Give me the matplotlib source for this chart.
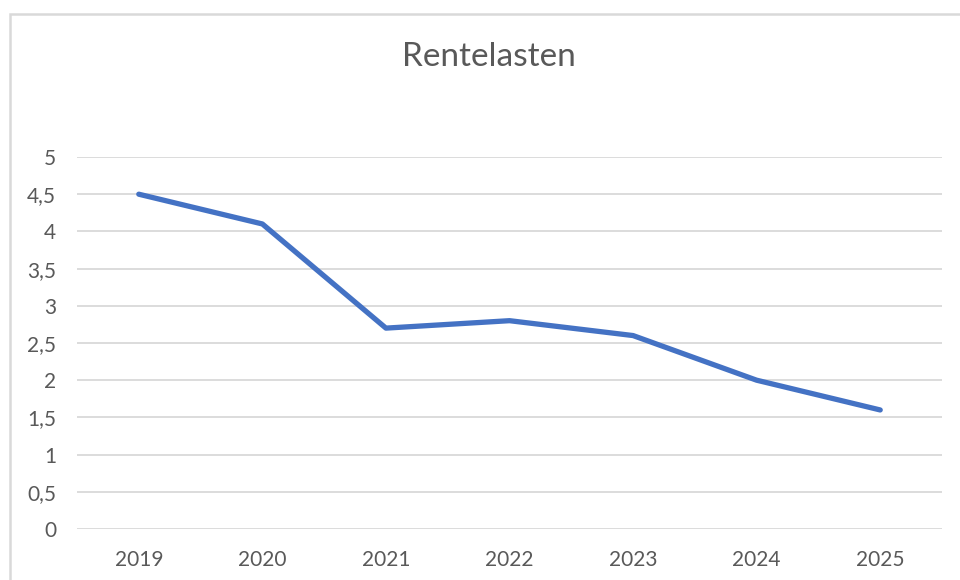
import matplotlib
matplotlib.use("Agg")
import matplotlib.pyplot as plt
from matplotlib.patches import Rectangle
from matplotlib.ticker import FuncFormatter

# rentelasten per jaar
jaren = ["2019", "2020", "2021", "2022", "2023", "2024", "2025"]
rentelasten = [4.5, 4.1, 2.7, 2.8, 2.6, 2.0, 1.6]

plt.rcParams['font.family'] = ['Lato', 'DejaVu Sans']
tekst = '#595959'

fig = plt.figure(figsize=(9.6, 5.8), dpi=100)
ax = fig.add_axes([77 / 960, 1 - 529 / 580, 865 / 960, 372 / 580])

# lichtgrijze rand om de grafiek
fig.patches.append(Rectangle((10 / 960, -0.1), 1.2, 1 - 14 / 580 + 0.1,
                             transform=fig.transFigure, fill=False,
                             edgecolor='#d9d9d9', linewidth=1.8))

x = list(range(len(jaren)))
ax.plot(x, rentelasten, color='#4472C4', linewidth=3.8,
        solid_joinstyle='round', solid_capstyle='round', zorder=3)

ax.set_xlim(-0.5, len(jaren) - 0.5)
ax.set_ylim(0, 5)
ax.set_yticks([i * 0.5 for i in range(11)])
ax.yaxis.set_major_formatter(FuncFormatter(lambda v, p: ('%g' % v).replace('.', ',')))
ax.set_xticks(x)
ax.set_xticklabels(jaren)

ax.grid(axis='y', color='#d9d9d9', linewidth=1.3)
ax.set_axisbelow(True)
for s in ax.spines.values():
    s.set_visible(False)
ax.tick_params(length=0, labelsize=15, colors=tekst)
ax.tick_params(axis='y', pad=15)
ax.tick_params(axis='x', pad=15)

fig.text(489 / 960, 1 - 57 / 580, "Rentelasten", ha='center', va='center',
         fontsize=24, color=tekst)

fig.savefig("out.png", dpi=100)
